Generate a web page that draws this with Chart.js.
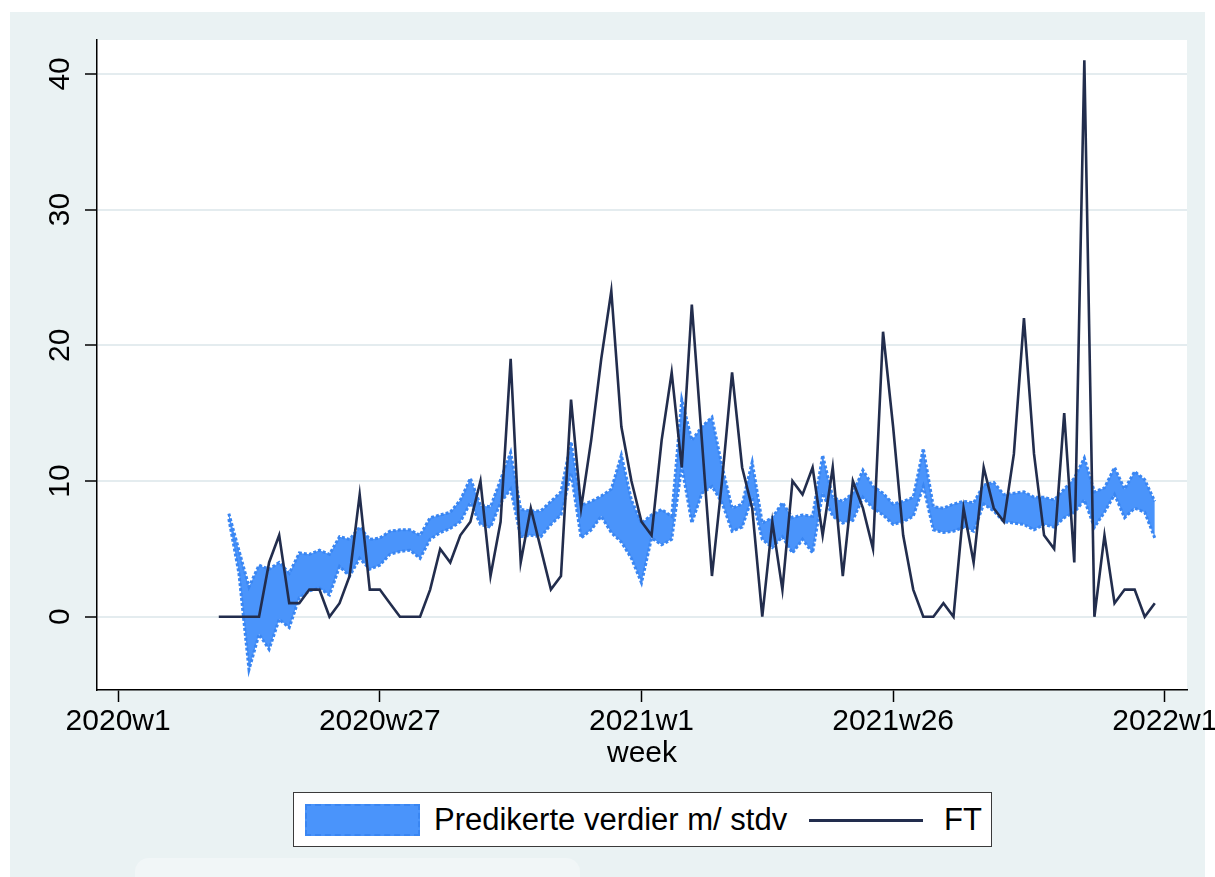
<!DOCTYPE html>
<html>
<head>
<meta charset="utf-8">
<script src="https://cdn.jsdelivr.net/npm/chart.js@4.4.1/dist/chart.umd.min.js"></script>
<style>
html,body{margin:0;padding:0;background:#ffffff;}
#wrap{position:relative;width:1215px;height:877px;overflow:hidden;font-family:'Liberation Sans',Arial,sans-serif;}
#bg{position:absolute;left:10px;top:12px;width:1195px;height:865px;background:#eaf2f3;}
#ghost{position:absolute;left:135px;top:858px;width:445px;height:40px;border-radius:14px;background:#f1f6f7;}
#c{position:absolute;left:0;top:0;}
#legend{position:absolute;left:293px;top:792px;width:697px;height:53px;background:#ffffff;border:1.5px solid #3a3a3a;}
#legend .sw{position:absolute;left:11px;top:11px;width:115px;height:32px;box-sizing:border-box;background:#4a94fb;border:2.5px dashed #3a86f2;}
#legend .t1{position:absolute;left:140px;top:0;height:53px;line-height:53px;font-size:31px;color:#000;white-space:nowrap;}
#legend .ln{position:absolute;left:515px;top:26px;width:114px;height:2.5px;background:#222d4d;}
#legend .t2{position:absolute;left:650px;top:0;height:53px;line-height:53px;font-size:31px;color:#000;white-space:nowrap;}
</style>
</head>
<body>
<div id="wrap">
  <div id="bg"></div>
  <div id="ghost"></div>
  <canvas id="c" width="1215" height="877"></canvas>
  <div id="legend">
    <div class="sw"></div>
    <span class="t1">Predikerte verdier m/ stdv</span>
    <div class="ln"></div>
    <span class="t2">FT</span>
  </div>
</div>
<script>
// weeks counted from 2020w1 = 0
const ftStartWeek = 10; // 2020w11
const ftValues = [0,0,0,0,0,4,6,1,1,2,2,0,1,3,9,2,2,1,0,0,0,2,5,4,6,7,10,3,7,19,4,8,5,2,3,16,8,13,19,24,14,10,7,6,13,18,11,23,13,3,10,18,11,8,0,7,2,10,9,11,6,11,3,10,8,5,21,14,6,2,0,0,1,0,8,4,11,8,7,12,22,12,6,5,15,4,41,0,6,1,2,2,0,1];

const bandStartWeek = 11; // 2020w12
const bandUpper = [7.6,4.9,2.2,3.8,3.5,4.0,3.2,4.7,4.6,4.9,4.6,5.9,5.7,6.6,5.7,5.8,6.3,6.4,6.4,6.0,7.3,7.5,7.7,8.6,10.2,8.2,8.1,10.1,12.1,7.9,7.8,7.8,8.5,9.2,12.9,8.2,8.5,8.9,9.4,11.9,8.6,6.9,7.5,7.9,7.4,16.0,13.0,14.0,14.7,11.1,8.0,8.3,11.4,6.9,7.3,8.4,7.3,7.5,7.4,11.9,8.8,8.5,9.1,10.8,9.6,9.1,8.3,8.5,8.8,12.4,8.1,8.0,8.3,8.5,8.4,9.7,9.9,9.0,9.1,9.2,8.8,8.8,8.6,9.4,10.2,11.7,9.2,9.5,11.0,9.4,10.7,10.1,8.5];
const bandLower = [7.2,3.2,-3.9,-1.3,-2.4,-0.2,-0.8,1.4,1.9,2.1,1.6,3.7,3.0,4.3,3.5,3.8,4.6,4.8,4.9,4.3,5.7,6.2,6.5,7.0,8.4,6.8,6.6,8.4,9.4,5.9,6.0,5.9,6.8,7.5,10.6,5.8,6.4,7.4,6.2,5.5,4.3,2.5,5.8,5.3,5.7,11.1,6.9,9.1,9.6,8.4,6.3,6.6,8.8,5.7,5.1,5.9,4.7,5.7,4.7,9.1,7.4,6.9,7.1,8.8,8.0,7.5,6.8,7.0,7.4,9.6,6.4,6.2,6.3,6.6,6.3,8.3,7.8,7.0,6.9,6.8,6.4,6.8,6.6,7.3,7.7,8.6,6.6,7.7,9.0,7.3,8.0,7.7,5.8];

const xTickValues = [0, 26, 52, 77, 104];
const xTickLabels = ['2020w1', '2020w27', '2021w1', '2021w26', '2022w1'];
const yTickValues = [0, 10, 20, 30, 40];

const ftPoints = ftValues.map((v, k) => ({x: ftStartWeek + k, y: v}));
const upperPoints = bandUpper.map((v, k) => ({x: bandStartWeek + k, y: v}));
const lowerPoints = bandLower.map((v, k) => ({x: bandStartWeek + k, y: v}));

Chart.defaults.font.family = "'Liberation Sans', Arial, sans-serif";
Chart.defaults.color = '#000';

const plotBg = {
  id: 'plotBg',
  beforeDraw(chart) {
    const {ctx, chartArea: a} = chart;
    ctx.save();
    ctx.fillStyle = '#ffffff';
    ctx.fillRect(a.left, a.top, a.right - a.left, a.bottom - a.top);
    ctx.restore();
  }
};

new Chart(document.getElementById('c'), {
  type: 'line',
  data: {
    datasets: [
      {label: 'FT', data: ftPoints, borderColor: '#222d4d', borderWidth: 2.6, pointRadius: 0, fill: false, tension: 0},
      {label: 'lower', data: lowerPoints, borderColor: '#3a86f2', borderWidth: 3, borderDash: [3, 2], pointRadius: 0, fill: false, tension: 0},
      {label: 'Predikerte verdier m/ stdv', data: upperPoints, borderColor: '#3a86f2', borderWidth: 3, borderDash: [3, 2], pointRadius: 0, backgroundColor: '#4a94fb', fill: '-1', tension: 0}
    ]
  },
  options: {
    responsive: false,
    animation: false,
    devicePixelRatio: 1,
    layout: {padding: {left: 0, top: 40, right: 28, bottom: 105}},
    plugins: {legend: {display: false}, tooltip: {enabled: false}},
    scales: {
      x: {
        type: 'linear',
        min: -2.1,
        max: 106.2,
        afterBuildTicks: s => { s.ticks = xTickValues.map(v => ({value: v})); },
        afterFit: s => { s.height = 82; s.paddingLeft = 0; s.paddingRight = 0; },
        ticks: {
          callback: (v, i) => xTickLabels[i],
          font: {size: 30},
          color: '#000',
          padding: 2,
          maxRotation: 0,
          minRotation: 0,
          autoSkip: false
        },
        grid: {drawOnChartArea: false, tickLength: 12, tickColor: '#000', tickWidth: 1.5},
        border: {display: true, color: '#000', width: 1.5},
        title: {display: true, text: 'week', font: {size: 30}, color: '#000', padding: 0}
      },
      y: {
        type: 'linear',
        min: -5.4,
        max: 42.5,
        afterBuildTicks: s => { s.ticks = yTickValues.map(v => ({value: v})); },
        afterFit: s => { s.width = 97; s.paddingTop = 0; s.paddingBottom = 0; },
        ticks: {
          font: {size: 30},
          color: '#000',
          padding: 8,
          minRotation: 90,
          maxRotation: 90,
          crossAlign: 'center'
        },
        grid: {color: '#e4ecef', lineWidth: 2, tickLength: 12, tickColor: '#000', tickWidth: 1.5},
        border: {display: true, color: '#000', width: 1.5}
      }
    }
  },
  plugins: [plotBg]
});
</script>
</body>
</html>
